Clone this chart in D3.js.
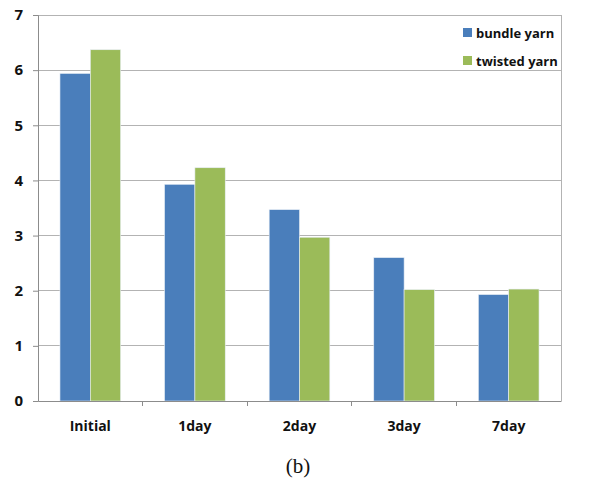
<!DOCTYPE html>
<html><head><meta charset="utf-8">
<script src="https://cdn.jsdelivr.net/npm/d3@7"></script>
<style>body{margin:0;background:#fff}svg{display:block}</style>
</head><body>
<script>
const categories = ["Initial", "1day", "2day", "3day", "7day"];
const seriesNames = ["bundle yarn", "twisted yarn"];
const bundleYarn = [5.94, 3.93, 3.47, 2.6, 1.93];
const twistedYarn = [6.37, 4.23, 2.97, 2.02, 2.03];
const yTicks = [0, 1, 2, 3, 4, 5, 6, 7];
const colors = ["#4a7ebb", "#9bbb59"];

const W = 597, H = 488;
const m = {left: 38, right: 36, top: 15, bottom: 87};
const svg = d3.select("body").append("svg").attr("width", W).attr("height", H);
const x = d3.scaleBand().domain(categories).range([m.left, W - m.right]).paddingInner(0.42).paddingOuter(0.21);
const xs = d3.scaleBand().domain(seriesNames).range([0, x.bandwidth()]);
const y = d3.scaleLinear().domain([0, 7]).range([H - m.bottom, m.top]);

const font = "'Open Sans', 'Liberation Sans', Arial, sans-serif";
// gridlines
svg.append("g").selectAll("line").data(yTicks.filter(d => d > 0)).join("line")
  .attr("x1", m.left).attr("x2", W - m.right)
  .attr("y1", d => y(d)).attr("y2", d => y(d))
  .attr("stroke", "#b3b3b3").attr("stroke-width", 1).attr("shape-rendering", "crispEdges");
// right border
svg.append("line").attr("x1", W - m.right).attr("x2", W - m.right).attr("y1", m.top).attr("y2", y(0))
  .attr("stroke", "#b3b3b3").attr("shape-rendering", "crispEdges");

const data = categories.map((c, i) => ({c, vals: [bundleYarn[i], twistedYarn[i]]}));
svg.append("g").selectAll("g").data(data).join("g")
  .attr("transform", d => `translate(${x(d.c)},0)`)
  .selectAll("rect").data(d => d.vals.map((v, j) => ({v, s: seriesNames[j], j})))
  .join("rect")
  .attr("x", d => xs(d.s)).attr("width", xs.bandwidth())
  .attr("y", d => y(d.v)).attr("height", d => y(0) - y(d.v))
  .attr("fill", d => colors[d.j]).attr("stroke", "#e8eef6").attr("stroke-width", 0.6);

// y axis
const ya = svg.append("g").attr("transform", `translate(${m.left},0)`)
  .call(d3.axisLeft(y).tickValues(yTicks).tickSize(5).tickPadding(10).tickFormat(d3.format("d")));
ya.select(".domain").attr("stroke", "#8c8c8c");
ya.selectAll(".tick line").attr("stroke", "#8c8c8c");
ya.selectAll("text").attr("font-family", font).attr("font-weight", "bold").attr("font-size", 15).attr("fill", "#111");

// x axis
const xa = svg.append("g").attr("transform", `translate(0,${y(0)})`)
  .call(d3.axisBottom(x).tickSize(0).tickPadding(20));
xa.select(".domain").attr("stroke", "#8c8c8c");
xa.selectAll("text").attr("font-family", font).attr("font-weight", "bold").attr("font-size", 14).attr("fill", "#111");
// category separators
const bounds = categories.slice(1).map(c => x(c) - x.step() * x.paddingInner() / 2);
svg.append("g").selectAll("line").data(bounds).join("line")
  .attr("x1", d => d).attr("x2", d => d).attr("y1", y(0)).attr("y2", y(0) + 5)
  .attr("stroke", "#8c8c8c").attr("shape-rendering", "crispEdges");

// legend
const lg = svg.append("g").attr("transform", "translate(463,28)");
seriesNames.forEach((s, i) => {
  const g = lg.append("g").attr("transform", `translate(0,${i * 28})`);
  g.append("rect").attr("width", 9).attr("height", 9).attr("y", 0).attr("fill", colors[i]);
  g.append("text").attr("x", 13).attr("y", 10).text(s)
    .attr("font-family", font).attr("font-weight", "bold").attr("font-size", 13).attr("fill", "#111");
});

// caption
svg.append("text").attr("x", 298).attr("y", 473).attr("text-anchor", "middle")
  .attr("font-family", "'Liberation Serif', 'Times New Roman', serif").attr("font-size", 21).attr("fill", "#111").text("(b)");
</script>
</body></html>
